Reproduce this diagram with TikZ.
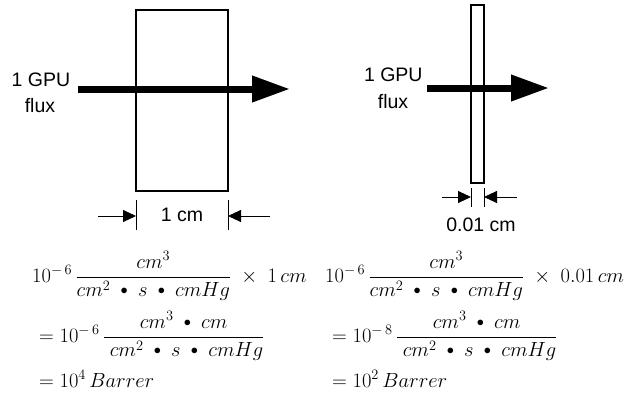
\RequirePackage{fix-cm}
\documentclass[tikz,border=0pt]{standalone}
\usepackage{fontspec}
\setmainfont{Liberation Sans}
\usetikzlibrary{arrows.meta}
\newcommand{\myfrac}[2]{{\displaystyle\frac{#1}{#2}}}
\newcommand{\bul}{\;\mathbin{\vcenter{\hbox{$\scriptstyle\bullet$}}}\;}
\begin{document}
\begin{tikzpicture}[x=1pt,y=-1pt,
  lbl/.style={inner sep=0pt,font=\fontsize{19.5}{23}\selectfont},
  eqn/.style={inner sep=0pt,anchor=base west,font=\fontsize{20.5}{24}\selectfont},
  memb/.style={draw,line width=1.3pt,inner sep=0pt},
  flux/.style={line width=7pt,-{Triangle[length=38pt,width=25pt]}},
  dimarrow/.style={line width=0.9pt,-{Triangle[length=13pt,width=12pt]}},
  tick/.style={line width=0.9pt}]
\useasboundingbox (0,0) rectangle (634,394);
% left membrane
\node[memb,minimum width=92pt,minimum height=181pt] (m1) at (182,100.5) {};
\coordinate (f1s) at (78,89);
\coordinate (f1e) at (290,89);
\draw[flux] (f1s) -- (f1e);
\node[lbl,anchor=base] (g1) at (41,86.7) {1 GPU};
\node[lbl,anchor=base] (x1) at (40,112.7) {flux};
% left dimension
\coordinate (t1a) at (136,200); \coordinate (t1b) at (136,230);
\coordinate (t2a) at (228,200); \coordinate (t2b) at (228,230);
\draw[tick] (t1a) -- (t1b);
\draw[tick] (t2a) -- (t2b);
\coordinate (d1s) at (98,216); \coordinate (d1e) at (136,216);
\coordinate (d2s) at (270,216); \coordinate (d2e) at (228,216);
\draw[dimarrow] (d1s) -- (d1e);
\draw[dimarrow] (d2s) -- (d2e);
\node[lbl,anchor=base] (w1) at (182,221.7) {1 cm};
% right membrane
\node[memb,minimum width=13pt,minimum height=178pt] (m2) at (477.5,94) {};
\coordinate (f2s) at (427,88);
\coordinate (f2e) at (549,88);
\draw[flux] (f2s) -- (f2e);
\node[lbl,anchor=base] (g2) at (393.3,81.7) {1 GPU};
\node[lbl,anchor=base] (x2) at (393,108.3) {flux};
% right dimension
\coordinate (t3a) at (471,188); \coordinate (t3b) at (471,207);
\coordinate (t4a) at (484,188); \coordinate (t4b) at (484,207);
\draw[tick] (t3a) -- (t3b);
\draw[tick] (t4a) -- (t4b);
\coordinate (d3s) at (442,197); \coordinate (d3e) at (471,197);
\coordinate (d4s) at (517,197); \coordinate (d4e) at (484,197);
\draw[dimarrow] (d3s) -- (d3e);
\draw[dimarrow] (d4s) -- (d4e);
\node[lbl,anchor=base] (w2) at (481,231.7) {0.01 cm};
% equations left
\node[eqn] (e1) at (32,282) {$10^{-\,6}\,\myfrac{cm^3}{cm^2\bul s\bul cmHg}\;\times\;1\,cm$};
\node[eqn] (e2) at (39,342) {$=10^{-\,6}\,\myfrac{\;cm^3\bul cm\;}{\;cm^2\bul s\bul cmHg}$};
\node[eqn] (e3) at (39,387) {$=10^4\,Barrer$};
% equations right
\node[eqn] (e4) at (325,282) {$10^{-\,6}\,\myfrac{cm^3}{cm^2\bul s\bul cmHg}\;\times\;0.01\,cm$};
\node[eqn] (e5) at (332,342) {$=10^{-\,8}\,\myfrac{\;cm^3\bul cm\;}{\;cm^2\bul s\bul cmHg}$};
\node[eqn] (e6) at (332,387) {$=10^2\,Barrer$};
\end{tikzpicture}
\end{document}
